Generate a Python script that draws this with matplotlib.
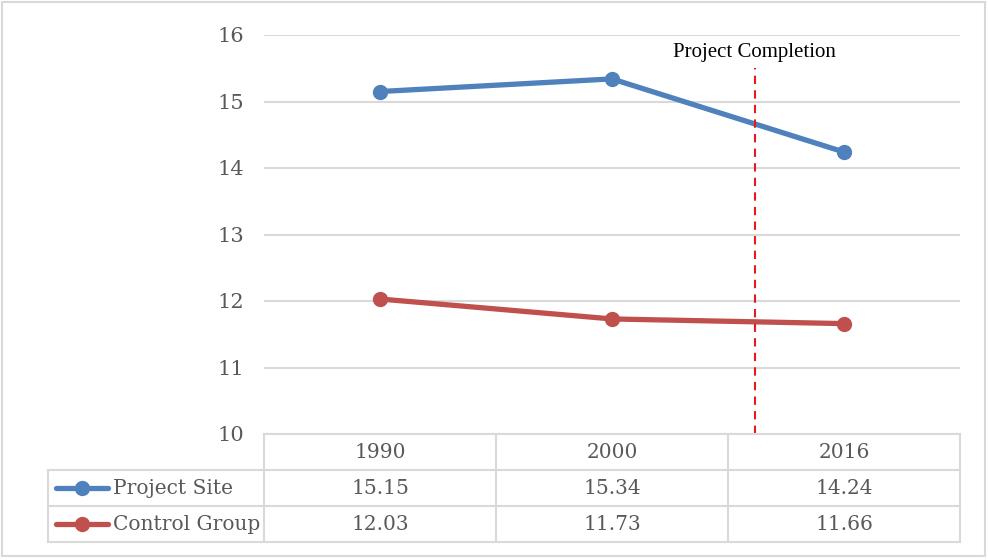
import matplotlib.pyplot as plt
from matplotlib.patches import Rectangle

years = ["1990", "2000", "2016"]
project_site = [15.15, 15.34, 14.24]
control_group = [12.03, 11.73, 11.66]
series_names = ["Project Site", "Control Group"]
series_colors = ["#4f81bd", "#c0504d"]
y_ticks = [10, 11, 12, 13, 14, 15, 16]
completion_x = 1.616  # between 2000 and 2016
completion_label = "Project Completion"

grid_col = "#d9d9d9"
text_col = "#595959"
W, H = 988, 560

fig = plt.figure(figsize=(W / 100, H / 100), dpi=100, facecolor="white")

# plot area, placed in pixel units
px0, px1, py0, py1 = 264, 960, 35, 434
ax = fig.add_axes([px0 / W, 1 - py1 / H, (px1 - px0) / W, (py1 - py0) / H])
ax.set_xlim(-0.5, len(years) - 0.5)
ax.set_ylim(10, 16)
for s in ax.spines.values():
    s.set_visible(False)
ax.set_xticks([])
ax.set_yticks(y_ticks)
ax.set_yticklabels([str(t) for t in y_ticks], family="DejaVu Serif", fontsize=15, color=text_col)
ax.tick_params(axis="y", length=0, pad=14)
ax.yaxis.grid(True, color=grid_col, linewidth=1.5)
ax.set_axisbelow(True)

xs = range(len(years))
for vals, c in zip([project_site, control_group], series_colors):
    ax.plot(xs, vals, color=c, linewidth=3.8, marker="o", markersize=10,
            solid_capstyle="round", zorder=3)

ax.plot([completion_x, completion_x], [10, 15.5], color="#e41a1c",
        linestyle=(0, (4, 3)), linewidth=1.5, zorder=4)
ax.text(completion_x, 15.74, completion_label, ha="center", va="center",
        family="Liberation Serif", fontsize=15, color="black")

# data table underneath, in pixel coords
tb = fig.add_axes([0, 0, 1, 1])
tb.set_xlim(0, W)
tb.set_ylim(H, 0)
tb.axis("off")
tb.patch.set_alpha(0)

tb.add_patch(Rectangle((2, 2), W - 5, H - 6, fill=False, edgecolor=grid_col, linewidth=1.5))

col_edges = [264, 496, 728, 960]
row_edges = [434, 470, 506, 542]
lw = 1.5
tb.plot([264, 960], [434, 434], color=grid_col, lw=lw)
for y in row_edges[1:]:
    tb.plot([48, 960], [y, y], color=grid_col, lw=lw)
for x in col_edges:
    tb.plot([x, x], [434, 542], color=grid_col, lw=lw)
tb.plot([48, 48], [470, 542], color=grid_col, lw=lw)

font = dict(family="DejaVu Serif", fontsize=14.5, color=text_col)
for i, yr in enumerate(years):
    cx = (col_edges[i] + col_edges[i + 1]) / 2
    tb.text(cx, 453, yr, ha="center", va="center", **font)

for r, (name, vals, c) in enumerate(zip(series_names, [project_site, control_group], series_colors)):
    cy = (row_edges[r + 1] + row_edges[r + 2]) / 2 + 1
    tb.plot([56, 108], [cy - 1, cy - 1], color=c, lw=3.8, solid_capstyle="round")
    tb.plot([82], [cy - 1], color=c, marker="o", markersize=10)
    tb.text(113, cy, name, ha="left", va="center", **font)
    for i, v in enumerate(vals):
        cx = (col_edges[i] + col_edges[i + 1]) / 2
        tb.text(cx, cy, f"{v:.2f}", ha="center", va="center", **font)

fig.savefig("out.png", dpi=100, facecolor="white")
